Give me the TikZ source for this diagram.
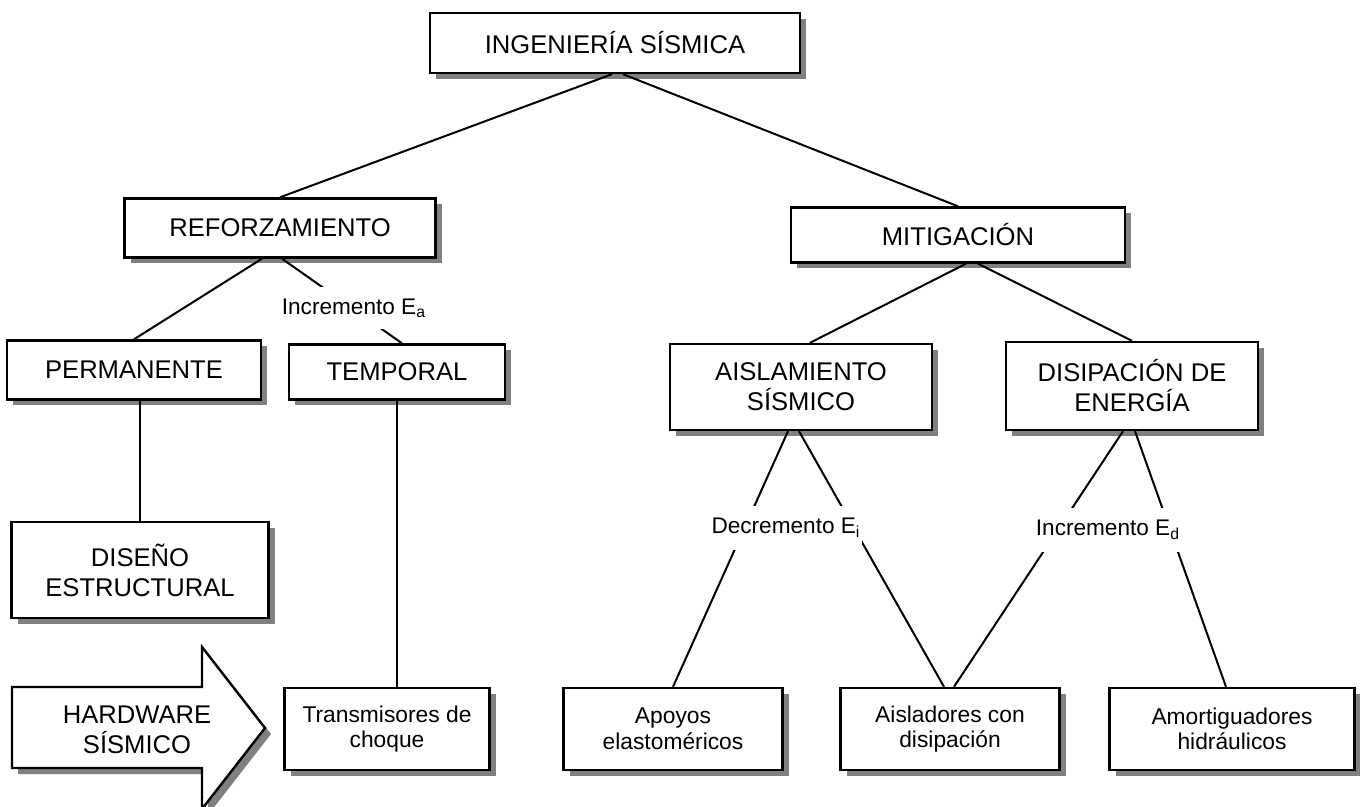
\documentclass[tikz,border=0pt]{standalone}
\usepackage{fontspec}
\setmainfont{Liberation Sans}
\usetikzlibrary{shadows}

\begin{document}
\begin{tikzpicture}[x=0.5pt,y=-0.5pt,
  shad/.style={drop shadow={shadow xshift=3pt,shadow yshift=-3pt,fill=black!50,opacity=1}},
  box/.style={draw,line width=1.2pt,fill=white,align=center,inner sep=0pt,shad,
    font=\fontsize{12.8}{15}\selectfont},
  hw/.style={box,minimum height=41pt,font=\fontsize{11.4}{12.8}\selectfont},
  lbl/.style={fill=white,inner xsep=1pt,inner ysep=6pt,font=\fontsize{11.3}{13}\selectfont},
  link/.style={line width=1pt}]
  \useasboundingbox (0,0) rectangle (1360,807);

  % upper levels
  \node[box,minimum width=185pt,minimum height=30pt] (ing) at (615,43) {INGENIERÍA SÍSMICA};
  \node[box,minimum width=155.5pt,minimum height=29.5pt] (ref) at (280,228) {REFORZAMIENTO};
  \node[box,minimum width=167pt,minimum height=27.5pt] (mit) at (958,235) {MITIGACIÓN};
  \node[box,minimum width=127pt,minimum height=29.5pt] (perm) at (134,370) {PERMANENTE};
  \node[box,minimum width=108pt,minimum height=27.5pt] (temp) at (397,372) {TEMPORAL};
  \node[box,minimum width=131pt,minimum height=43pt] (aisl) at (801,387) {AISLAMIENTO\\SÍSMICO};
  \node[box,minimum width=126pt,minimum height=44pt] (disip) at (1132,386) {DISIPACIÓN DE\\ENERGÍA};
  \node[box,minimum width=128.5pt,minimum height=48pt] (diseno) at (140,570) {DISEÑO\\ESTRUCTURAL};

  % hardware row
  \path[draw,fill=white,line width=1.2pt,shad] (12,687) -- (202,687) -- (202,647) -- (265,728)
    -- (202,809) -- (202,768) -- (12,768) -- cycle;
  \node[align=center,font=\fontsize{12.8}{15}\selectfont] (hard) at (137,730) {HARDWARE\\SÍSMICO};
  \node[hw,minimum width=102.5pt] (trans) at (387,729) {Transmisores de\\choque};
  \node[hw,minimum width=109.5pt] (apoyos) at (673,729) {Apoyos\\elastoméricos};
  \node[hw,minimum width=109.5pt] (aislad) at (950,729) {Aisladores con\\disipación};
  \node[hw,minimum width=122.5pt] (amort) at (1232,729) {Amortiguadores\\hidráulicos};

  % connectors
  \draw[link] ([xshift=-1.5pt]ing.south) -- (ref.north);
  \draw[link] ([xshift=4pt]ing.south) -- (mit.north);
  \draw[link] ([xshift=-9pt]ref.south) -- (perm.north);
  \draw[link] ([xshift=1pt]ref.south) -- ([xshift=2.5pt]temp.north);
  \draw[link] ([xshift=4pt]mit.south) -- ([xshift=4.5pt]aisl.north);
  \draw[link] ([xshift=10pt]mit.south) -- (disip.north);
  \draw[link] (diseno.north |- perm.south) -- (diseno.north);
  \draw[link] (temp.south) -- (temp.south |- trans.north);
  \draw[link] ([xshift=-6.5pt]aisl.south) -- (apoyos.north);
  \draw[link] ([xshift=-1pt]aisl.south) -- ([xshift=-3pt]aislad.north);
  \draw[link] ([xshift=-4.5pt]disip.south) -- ([xshift=2pt]aislad.north);
  \draw[link] ([xshift=1.5pt]disip.south) -- ([xshift=-3pt]amort.north);

  % labels on the connectors
  \node[lbl] (incA) at (354,308) {Incremento E\textsubscript{a}};
  \node[lbl] (decI) at (786,528) {Decremento E\textsubscript{i}};
  \node[lbl] (incD) at (1108,530) {Incremento E\textsubscript{d}};
\end{tikzpicture}
\end{document}
